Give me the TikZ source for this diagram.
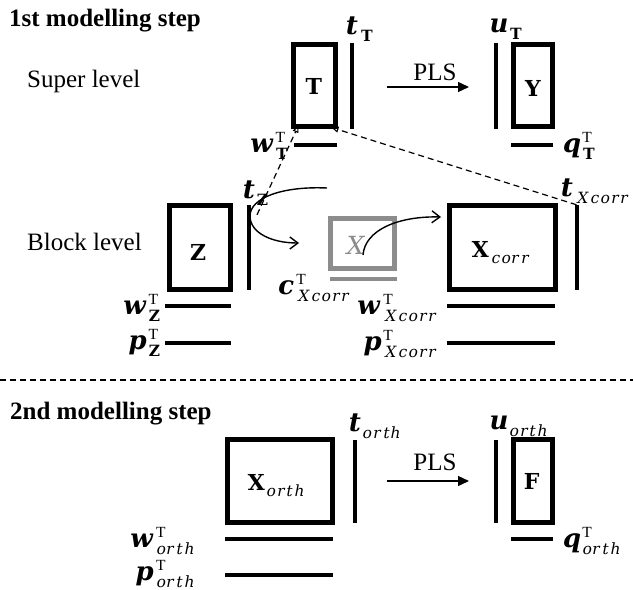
\documentclass[tikz,border=0pt]{standalone}
\usepackage{fontspec}
\usepackage{unicode-math}
\setmainfont{Liberation Serif}
\setmathfont{DejaVu Math TeX Gyre}
\usetikzlibrary{arrows.meta,calc}
\definecolor{greybox}{HTML}{8C8C8C}

% score and loading labels: large bold-italic letter, smaller indices
\newcommand{\idxsize}{\fontsize{15.5bp}{16bp}\selectfont}
\newcommand{\scorelbl}[2]{$\symbfit{#1}_{\mbox{\idxsize$#2$}}$}
\newcommand{\loadlbl}[2]{$\symbfit{#1}^{\mbox{\idxsize$\mathrm{T}$}}_{\mbox{\idxsize$#2$}}$}

\begin{document}
\begin{tikzpicture}[x=1bp,y=-1bp,
  font=\fontsize{25bp}{30bp}\selectfont,
  heading/.style={inner sep=0pt, font=\fontsize{25bp}{30bp}\selectfont\bfseries},
  lab/.style={inner sep=0pt, font=\fontsize{26bp}{30bp}\selectfont},
  boxlab/.style={inner sep=0pt, font=\fontsize{22bp}{26bp}\selectfont},
  matbox/.style={draw, line width=5bp, inner sep=0pt},
  vbar/.style={fill, inner sep=0pt, minimum width=4bp, minimum height=#1},
  hbar/.style={fill, inner sep=0pt, minimum height=4bp, minimum width=#1},
  plsarrow/.style={line width=1.3bp, -{Triangle[length=11bp,width=10bp]}},
  curvearrow/.style={line width=1.4bp, -{Straight Barb[length=8bp,width=12bp,line width=1.4bp]}},
  dashlink/.style={line width=1.2bp, dash pattern=on 6bp off 4bp,
    -{Triangle[open,length=7bp,width=6bp,line width=1.1bp]}},
  separator/.style={line width=1.2bp, dash pattern=on 6bp off 4bp}]

\useasboundingbox (0,0) rectangle (633,590);

% headings and level names
\node[heading, anchor=base west] (head1) at (9,27) {1st modelling step};
\node[heading, anchor=base west] (head2) at (10,419) {2nd modelling step};
\node[inner sep=0pt, anchor=base west] (superlvl) at (27,88) {Super level};
\node[inner sep=0pt, anchor=base west] (blocklvl) at (27,250) {Block level};

% ---------- super level ----------
\node[matbox, minimum width=42bp, minimum height=82bp] (T) at (314.5,85.5) {};
\node[boxlab] (Tl) at (314,86) {$\symbf{T}$};
\node[vbar=86bp] (tT) at (352,86) {};
\node[hbar=43bp] (wT) at (315.5,145) {};
\node[matbox, minimum width=39bp, minimum height=82bp] (Y) at (533,85.5) {};
\node[boxlab] (Yl) at (533,88) {$\symbf{Y}$};
\node[vbar=86bp] (uT) at (496,86) {};
\node[hbar=42bp] (qT) at (532,145) {};

\node[lab] (tTl) at (360,29) {\scorelbl{t}{\symbf{T}}};
\node[lab] (uTl) at (507,29) {\scorelbl{u}{\symbf{T}}};
\node[lab, anchor=east] (wTl) at (290,146) {\loadlbl{w}{\symbf{T}}};
\node[lab, anchor=west] (qTl) at (562,146) {\loadlbl{q}{\symbf{T}}};

\coordinate (plsA1) at (387,87);
\coordinate (plsB1) at (469,87);
\draw[plsarrow] (plsA1) -- (plsB1);
\node[inner sep=0pt] (pls1) at (435,72) {PLS};

% ---------- block level ----------
\node[matbox, minimum width=61bp, minimum height=84bp] (Z) at (200.4,247.5) {};
\node[boxlab] (Zl) at (198,252) {$\symbf{Z}$};
\node[vbar=85bp] (tZ) at (249,247.5) {};
\node[hbar=66bp] (wZ) at (198.4,306) {};
\node[hbar=66bp] (pZ) at (198.4,343) {};
\node[lab] (tZl) at (256,193) {\scorelbl{t}{\symbf{Z}}};
\node[lab, anchor=east] (wZl) at (162,308) {\loadlbl{w}{\symbf{Z}}};
\node[lab, anchor=east] (pZl) at (162,343) {\loadlbl{p}{\symbf{Z}}};

\node[matbox, draw=greybox, line width=4.5bp, minimum width=64bp, minimum height=50bp] (gX) at (362.5,243.5) {};
\node[inner sep=0pt, text=greybox, font=\fontsize{25bp}{30bp}\selectfont] (gXl) at (356,245) {$\symit{X}$};
\node[hbar=67bp, fill=greybox] (cX) at (363.5,279) {};
\node[lab, anchor=east] (cXl) at (352,288) {\loadlbl{c}{Xcorr}};

\node[matbox, minimum width=106bp, minimum height=84bp] (Xc) at (502.5,247.5) {};
\node[boxlab] (Xcl) at (501,253) {$\symbf{X}_{corr}$};
\node[vbar=85bp] (tX) at (576.5,247.5) {};
\node[hbar=108bp] (wX) at (501,306) {};
\node[hbar=108bp] (pX) at (501,343) {};
\node[lab, anchor=east] (tXl) at (631,191) {\scorelbl{t}{Xcorr}};
\node[lab, anchor=east] (wXl) at (439,308) {\loadlbl{w}{Xcorr}};
\node[lab, anchor=east] (pXl) at (439,344) {\loadlbl{p}{Xcorr}};

% dashed links from the block scores up to the super block
\draw[dashlink] ($(tZ.north)+(8,10)$) -- ($(T.south west)+(7.5,-3.5)$);
\draw[dashlink] (tX.north) -- ($(T.south east)+(-6.5,-1.5)$);

% curved arrows of the block level
\coordinate (loopA) at (327,188);
\coordinate (loopB) at (299,243);
\draw[curvearrow] (loopA) .. controls (282,186) and (250,198) .. (250,216)
  .. controls (250,233) and (272,243) .. (loopB);
\coordinate (arcA) at (363,255);
\coordinate (arcB) at (441,217);
\draw[curvearrow] (arcA) .. controls (365,230) and (398,216) .. (arcB);

% separator
\coordinate (sepL) at (0,380);
\coordinate (sepR) at (633,380);
\draw[separator] (sepL) -- (sepR);

% ---------- second step ----------
\node[matbox, minimum width=105bp, minimum height=83bp] (Xo) at (280,481) {};
\node[boxlab] (Xol) at (276,486) {$\symbf{X}_{orth}$};
\node[vbar=83bp] (tO) at (355,481.5) {};
\node[hbar=108bp] (wO) at (279,539) {};
\node[hbar=108bp] (pO) at (279,575) {};
\node[lab] (tOl) at (375,426) {\scorelbl{t}{orth}};
\node[lab, anchor=east] (wOl) at (195,541) {\loadlbl{w}{orth}};
\node[lab, anchor=east] (pOl) at (195,574) {\loadlbl{p}{orth}};

\node[matbox, minimum width=39bp, minimum height=83bp] (F) at (533,481) {};
\node[boxlab] (Fl) at (532,481) {$\symbf{F}$};
\node[vbar=83bp] (uO) at (496,481.5) {};
\node[hbar=42bp] (qO) at (532,539) {};
\node[lab] (uOl) at (519,426) {\scorelbl{u}{orth}};
\node[lab, anchor=west] (qOl) at (562,541) {\loadlbl{q}{orth}};

\coordinate (plsA2) at (387,481);
\coordinate (plsB2) at (469,481);
\draw[plsarrow] (plsA2) -- (plsB2);
\node[inner sep=0pt] (pls2) at (435,462) {PLS};
\end{tikzpicture}
\end{document}
